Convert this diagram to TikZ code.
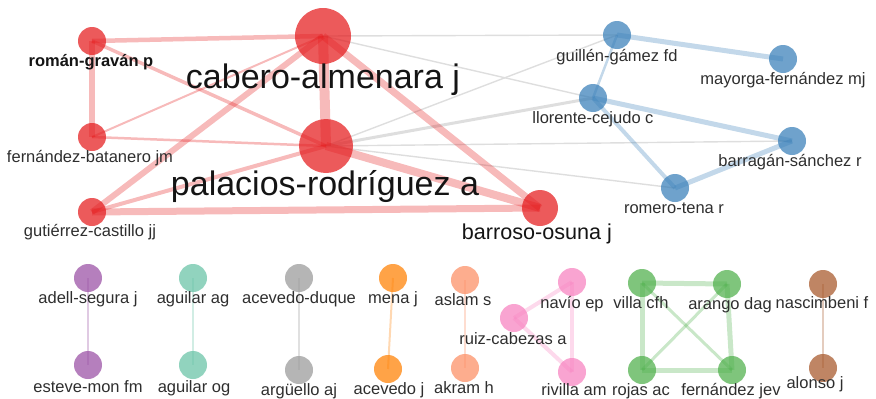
\documentclass[tikz,border=0pt]{standalone}
\usepackage{fontspec}
\setmainfont{Liberation Sans}
\usetikzlibrary{backgrounds}

\definecolor{cred}{RGB}{228,26,28}
\definecolor{cblue}{RGB}{55,126,184}
\definecolor{cgreen}{RGB}{77,175,74}
\definecolor{cpurple}{RGB}{152,78,163}
\definecolor{corange}{RGB}{255,127,0}
\definecolor{cbrown}{RGB}{166,86,40}
\definecolor{cpink}{RGB}{247,129,191}
\definecolor{cgrey}{RGB}{153,153,153}
\definecolor{cteal}{RGB}{102,194,165}
\definecolor{csalmon}{RGB}{252,141,98}

\begin{document}
\begin{tikzpicture}[x=1pt, y=-1pt,
    vertex/.style={circle, inner sep=0pt, minimum size=28pt, fill=#1, fill opacity=0.72},
    link/.style={draw=#1, draw opacity=0.3},
    greylink/.style={draw=black!13, line width=1.4pt},
    lbl/.style={anchor=base, inner sep=0pt, text=black!82, font=\fontsize{16.5}{18}\selectfont},
    biglbl/.style={anchor=base, inner sep=0pt, text=black!92, font=\fontsize{34}{38}\selectfont}]
    \useasboundingbox (0,0) rectangle (876,399);

    % red group
    \node[vertex=cred, minimum size=56pt] (cabero) at (323, 36) {};
    \node[vertex=cred, minimum size=54pt] (palacios) at (326, 146) {};
    \node[vertex=cred, minimum size=36pt] (barroso) at (540, 208) {};
    \node[vertex=cred] (roman) at (92, 41) {};
    \node[vertex=cred] (fbatanero) at (92, 137) {};
    \node[vertex=cred] (gutierrez) at (92, 212) {};

    % blue group
    \node[vertex=cblue] (guillen) at (617, 35) {};
    \node[vertex=cblue] (mayorga) at (783, 59) {};
    \node[vertex=cblue] (llorente) at (593, 98) {};
    \node[vertex=cblue] (barragan) at (792, 141) {};
    \node[vertex=cblue] (romero) at (675, 188) {};

    % small groups
    \node[vertex=cpurple] (adell) at (88, 278) {};
    \node[vertex=cpurple] (esteve) at (88, 365) {};
    \node[vertex=cteal] (aguilarag) at (193, 278) {};
    \node[vertex=cteal] (aguilarog) at (193, 365) {};
    \node[vertex=cgrey] (acevedoduque) at (299, 278) {};
    \node[vertex=cgrey] (arguello) at (299, 370) {};
    \node[vertex=corange] (mena) at (393, 278) {};
    \node[vertex=corange] (acevedoj) at (388, 369) {};
    \node[vertex=csalmon] (aslam) at (465, 280) {};
    \node[vertex=csalmon] (akram) at (465, 368) {};
    \node[vertex=cpink] (navio) at (572, 282) {};
    \node[vertex=cpink] (ruiz) at (514, 318) {};
    \node[vertex=cpink] (rivilla) at (572, 372) {};
    \node[vertex=cgreen] (villa) at (642, 283) {};
    \node[vertex=cgreen] (arango) at (727, 284) {};
    \node[vertex=cgreen] (rojas) at (642, 370) {};
    \node[vertex=cgreen] (fjev) at (732, 370) {};
    \node[vertex=cbrown] (nascimbeni) at (823, 284) {};
    \node[vertex=cbrown] (alonso) at (823, 368) {};

    \begin{scope}[on background layer]
        % grey links between the two big groups
        \draw[greylink] (cabero.center) -- (guillen.center);
        \draw[greylink] (cabero.center) -- (llorente.center);
        \draw[greylink] (palacios.center) -- (guillen.center);
        \draw[greylink, line width=3pt] (palacios.center) -- (llorente.center);
        \draw[greylink] (palacios.center) -- (barragan.center);
        \draw[greylink] (palacios.center) -- (romero.center);

        \draw[link=cred, line width=10pt] (cabero.center) -- (palacios.center);
        \draw[link=cred, line width=7pt] (cabero.center) -- (barroso.center);
        \draw[link=cred, line width=8pt] (palacios.center) -- (barroso.center);
        \draw[link=cred, line width=7pt] (gutierrez.center) -- (barroso.center);
        \draw[link=cred, line width=6pt] (gutierrez.center) -- (cabero.center);
        \draw[link=cred, line width=4pt] (gutierrez.center) -- (palacios.center);
        \draw[link=cred, line width=5.5pt] (roman.center) -- (fbatanero.center);
        \draw[link=cred, line width=4.5pt] (roman.center) -- (cabero.center);
        \draw[link=cred, line width=3.5pt] (roman.center) -- (palacios.center);
        \draw[link=cred, line width=2pt] (fbatanero.center) -- (cabero.center);
        \draw[link=cred, line width=2.5pt] (fbatanero.center) -- (palacios.center);

        \draw[link=cblue, line width=5pt] (guillen.center) -- (mayorga.center);
        \draw[link=cblue, line width=2.5pt] (guillen.center) -- (llorente.center);
        \draw[link=cblue, line width=5pt] (llorente.center) -- (barragan.center);
        \draw[link=cblue, line width=4pt] (llorente.center) -- (romero.center);
        \draw[link=cblue, line width=5pt] (romero.center) -- (barragan.center);

        \draw[link=cpurple, line width=1.5pt] (adell.center) -- (esteve.center);
        \draw[link=cteal, line width=1.5pt] (aguilarag.center) -- (aguilarog.center);
        \draw[link=cgrey, line width=1.5pt] (acevedoduque.center) -- (arguello.center);
        \draw[link=corange, line width=2pt] (mena.center) -- (acevedoj.center);
        \draw[link=csalmon, line width=2pt] (aslam.center) -- (akram.center);
        \draw[link=cpink, line width=4pt] (navio.center) -- (ruiz.center);
        \draw[link=cpink, line width=4pt] (navio.center) -- (rivilla.center);
        \draw[link=cpink, line width=4pt] (ruiz.center) -- (rivilla.center);
        \draw[link=cgreen, line width=5pt] (villa.center) -- (arango.center);
        \draw[link=cgreen, line width=5pt] (villa.center) -- (rojas.center);
        \draw[link=cgreen, line width=3pt] (villa.center) -- (fjev.center);
        \draw[link=cgreen, line width=3pt] (arango.center) -- (rojas.center);
        \draw[link=cgreen, line width=5pt] (arango.center) -- (fjev.center);
        \draw[link=cgreen, line width=5pt] (rojas.center) -- (fjev.center);
        \draw[link=cbrown, line width=2pt] (nascimbeni.center) -- (alonso.center);
    \end{scope}

    % labels
    \node[biglbl] (l-cabero) at (323, 88) {cabero-almenara j};
    \node[biglbl] (l-palacios) at (325, 195) {palacios-rodríguez a};
    \node[biglbl, font=\fontsize{21.6}{24}\selectfont] (l-barroso) at (537, 239) {barroso-osuna j};
    \node[lbl, font=\fontsize{16.5}{18}\selectfont\bfseries, text=black!92] (l-roman) at (91, 66) {román-graván p};
    \node[lbl] (l-fbatanero) at (90, 162) {fernández-batanero jm};
    \node[lbl] (l-gutierrez) at (90, 236) {gutiérrez-castillo jj};
    \node[lbl] (l-guillen) at (617, 61) {guillén-gámez fd};
    \node[lbl] (l-mayorga) at (783, 84) {mayorga-fernández mj};
    \node[lbl] (l-llorente) at (593, 123) {llorente-cejudo c};
    \node[lbl] (l-barragan) at (790, 166) {barragán-sánchez r};
    \node[lbl] (l-romero) at (674, 213) {romero-tena r};
    \node[lbl] (l-adell) at (88, 303) {adell-segura j};
    \node[lbl] (l-esteve) at (88, 392) {esteve-mon fm};
    \node[lbl] (l-aguilarag) at (193, 303) {aguilar ag};
    \node[lbl] (l-aguilarog) at (194, 392) {aguilar og};
    \node[lbl] (l-acevedoduque) at (299, 303) {acevedo-duque};
    \node[lbl] (l-arguello) at (299, 395) {argüello aj};
    \node[lbl] (l-mena) at (393, 303) {mena j};
    \node[lbl] (l-acevedoj) at (389, 394) {acevedo j};
    \node[lbl] (l-aslam) at (463, 305) {aslam s};
    \node[lbl] (l-akram) at (464, 393) {akram h};
    \node[lbl] (l-navio) at (572, 308) {navío ep};
    \node[lbl] (l-ruiz) at (513, 344) {ruiz-cabezas a};
    \node[lbl] (l-rivilla) at (574, 395) {rivilla am};
    \node[lbl] (l-villa) at (641, 308) {villa cfh};
    \node[lbl] (l-arango) at (730, 309) {arango dag};
    \node[lbl] (l-rojas) at (641, 395) {rojas ac};
    \node[lbl] (l-fjev) at (731, 395) {fernández jev};
    \node[lbl] (l-nascimbeni) at (822, 308) {nascimbeni f};
    \node[lbl] (l-alonso) at (815, 388) {alonso j};
\end{tikzpicture}
\end{document}
